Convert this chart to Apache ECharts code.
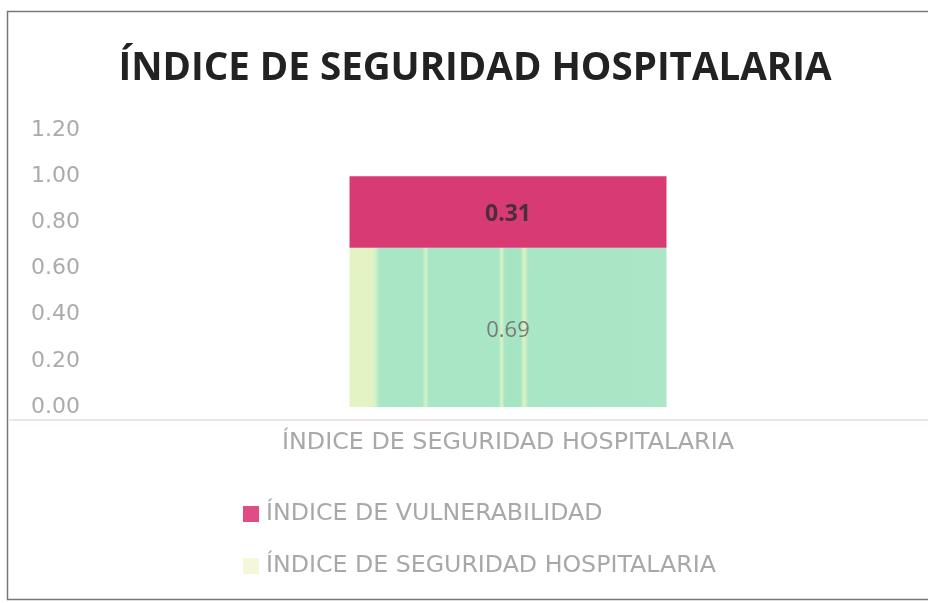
<!DOCTYPE html>
<html><head><meta charset="utf-8">
<script src="https://cdn.jsdelivr.net/npm/echarts@6/dist/echarts.min.js"></script>
<style>html,body{margin:0;padding:0;background:#fff}#c{width:928px;height:603px}</style>
</head><body><div id="c"></div>
<script>
const categories = ['ÍNDICE DE SEGURIDAD HOSPITALARIA'];
const seguridad = [0.69];
const vulnerabilidad = [0.31];
const yTicks = [0, 0.2, 0.4, 0.6, 0.8, 1.0, 1.2];

const chart = echarts.init(document.getElementById('c'));
const greenFill = new echarts.graphic.LinearGradient(0, 0, 1, 0, [
  {offset: 0, color: '#e4f3c4'}, {offset: 0.07, color: '#e4f3c4'},
  {offset: 0.08, color: '#d8f2c8'}, {offset: 0.095, color: '#a9e6c6'},
  {offset: 0.23, color: '#a9e6c6'}, {offset: 0.24, color: '#d6f2c8'}, {offset: 0.25, color: '#a9e6c6'},
  {offset: 0.47, color: '#a9e6c6'}, {offset: 0.48, color: '#d9f3c6'}, {offset: 0.49, color: '#a5e5c4'},
  {offset: 0.54, color: '#a5e5c4'}, {offset: 0.55, color: '#e0f4c2'}, {offset: 0.565, color: '#a9e6c6'},
  {offset: 1, color: '#abe6c6'}
]);
chart.setOption({
  animation: false,
  title: {
    text: 'ÍNDICE DE SEGURIDAD HOSPITALARIA',
    left: 470, top: 45, textAlign: 'center',
    textStyle: {fontFamily: 'Open Sans', fontWeight: 'bold', fontSize: 38.5, color: '#222'}
  },
  legend: {
    orient: 'vertical', left: 238, top: 497, itemGap: 28,
    itemWidth: 16, itemHeight: 16, icon: 'rect',
    data: [
      {name: 'ÍNDICE DE VULNERABILIDAD', itemStyle: {color: '#e04d86'}},
      {name: 'ÍNDICE DE SEGURIDAD HOSPITALARIA', itemStyle: {color: '#f4f8d8'}}
    ],
    textStyle: {fontFamily: 'DejaVu Sans', fontSize: 23.7, color: '#a8a8a8', padding: [0, 0, 0, 2]}
  },
  grid: {left: 95, right: 7, top: 130, bottom: 196},
  xAxis: {
    type: 'category', data: categories,
    axisLine: {show: false}, axisTick: {show: false},
    axisLabel: {fontFamily: 'DejaVu Sans', fontSize: 23.8, color: '#a8a8a8', margin: 24}
  },
  yAxis: {
    type: 'value', min: 0, max: 1.2, interval: 0.2,
    splitLine: {show: false}, axisLine: {show: false}, axisTick: {show: false},
    axisLabel: {fontFamily: 'DejaVu Sans', fontSize: 22, color: '#ababab', margin: 15,
      formatter: v => v.toFixed(2)}
  },
  series: [
    {name: 'ÍNDICE DE SEGURIDAD HOSPITALARIA', type: 'bar', stack: 's', barWidth: 317,
     data: seguridad, itemStyle: {color: greenFill},
     label: {show: true, position: 'inside', formatter: p => p.value.toFixed(2),
       fontFamily: 'Open Sans', fontSize: 22, color: '#7a7a7a', offset: [0, 3]}},
    {name: 'ÍNDICE DE VULNERABILIDAD', type: 'bar', stack: 's', barWidth: 317,
     data: vulnerabilidad, itemStyle: {color: '#d83a73'},
     label: {show: true, position: 'inside', formatter: p => p.value.toFixed(2),
       fontFamily: 'Open Sans', fontWeight: 'bold', fontSize: 23, color: '#4a2e3c', offset: [0, 3]}}
  ],
  graphic: [
    {type: 'rect', shape: {x: 7.5, y: 11.5, width: 930, height: 588}, style: {fill: 'none', stroke: '#777', lineWidth: 1.5}, silent: true},
    {type: 'line', shape: {x1: 8, y1: 420, x2: 928, y2: 420}, style: {stroke: '#ecd8e4', lineWidth: 1.5}, silent: true}
  ]
});
</script></body></html>
